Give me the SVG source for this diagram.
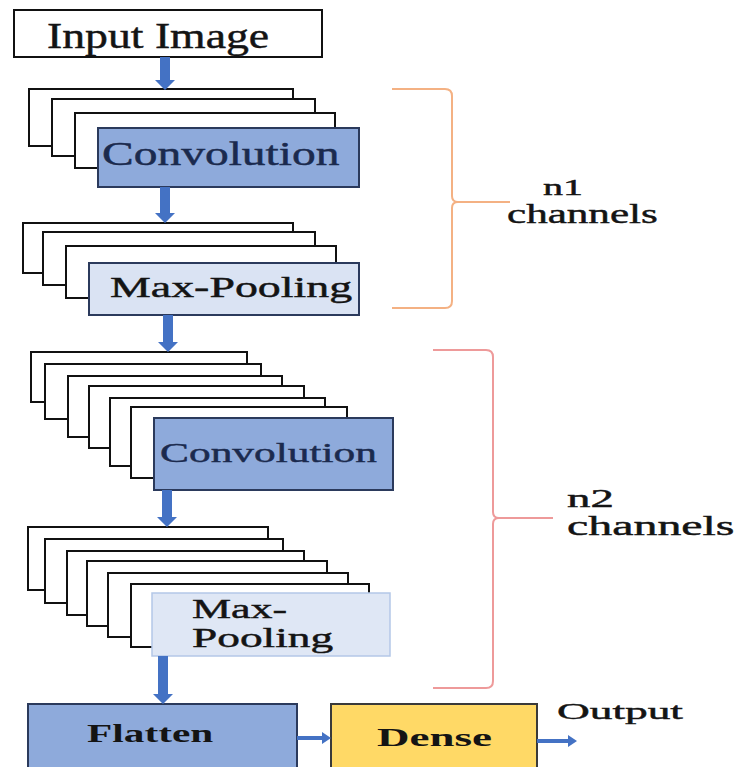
<svg xmlns="http://www.w3.org/2000/svg" width="737" height="767" viewBox="0 0 737 767">
<defs>
<style>
.bg{fill:#ffffff;stroke:#111;stroke-width:2}
.t{font-family:"Liberation Serif","Times New Roman",serif;fill:#141414;stroke:#141414;stroke-width:0.45}
.tb{font-family:"Liberation Serif","Times New Roman",serif;font-weight:bold;fill:#141414}
.navy{fill:#1b2a4e;stroke:#1b2a4e}
.conv{fill:#8eaadb;stroke:#2b3a5c;stroke-width:2}
.pool{fill:#dae3f3;stroke:#2b3a5c;stroke-width:2}
.pool2{fill:#dfe7f5;stroke:#b4c7e7;stroke-width:1.5}
.dense{fill:#ffd966;stroke:#3a3a3a;stroke-width:2}
.arr{fill:#4472c4}
.brace1{fill:none;stroke:#f4b183;stroke-width:2}
.brace2{fill:none;stroke:#ee9a9a;stroke-width:2}
</style>
</defs>
<rect width="737" height="767" fill="#ffffff"/>

<g id="input">
<rect x="14" y="10" width="308" height="47" class="bg"/>
<text class="t" font-size="36" transform="translate(47,48) scale(1.27,1)">Input Image</text>
</g>

<g id="conv1">
<rect x="29" y="89" width="264" height="57" class="bg"/>
<rect x="52" y="99" width="263" height="57" class="bg"/>
<rect x="75" y="113" width="260" height="55" class="bg"/>
<rect x="98" y="128" width="261" height="59" class="conv"/>
<text class="t navy" font-size="33" transform="translate(102,165) scale(1.44,1)">Convolution</text>
</g>

<g id="pool1">
<rect x="23" y="223" width="270" height="50" class="bg"/>
<rect x="43" y="232" width="272" height="53" class="bg"/>
<rect x="66" y="246" width="270" height="52" class="bg"/>
<rect x="89" y="263" width="270" height="52" class="pool"/>
<text class="t" font-size="30" transform="translate(110,297) scale(1.53,1)">Max-Pooling</text>
</g>

<g id="conv2">
<rect x="31" y="352" width="216" height="50" class="bg"/>
<rect x="45" y="364" width="216" height="55" class="bg"/>
<rect x="68" y="376" width="214" height="61" class="bg"/>
<rect x="89" y="386" width="215" height="62" class="bg"/>
<rect x="110" y="398" width="215" height="68" class="bg"/>
<rect x="131" y="407" width="216" height="71" class="bg"/>
<rect x="154" y="418" width="239" height="72" class="conv"/>
<text class="t navy" font-size="28" transform="translate(160,462) scale(1.55,1)">Convolution</text>
</g>

<g id="pool2">
<rect x="28" y="527" width="240" height="63" class="bg"/>
<rect x="45" y="539" width="238" height="64" class="bg"/>
<rect x="67" y="551" width="237" height="64" class="bg"/>
<rect x="87" y="561" width="240" height="65" class="bg"/>
<rect x="108" y="573" width="240" height="64" class="bg"/>
<rect x="131" y="584" width="238" height="63" class="bg"/>
<rect x="152" y="593" width="238" height="63" class="pool2"/>
<text class="t" font-size="28" transform="translate(192,618) scale(1.57,1)">Max-</text>
<text class="t" font-size="28" transform="translate(192,647) scale(1.62,1)">Pooling</text>
</g>

<g id="flatten">
<rect x="28" y="704" width="269" height="70" class="conv"/>
<text class="tb" font-size="26" transform="translate(87,742) scale(1.59,1)">Flatten</text>
</g>

<g id="dense">
<rect x="331" y="704" width="206" height="70" class="dense"/>
<text class="tb" font-size="26" transform="translate(377,746) scale(1.73,1)">Dense</text>
</g>

<g id="output-label">
<text class="t" font-size="24" transform="translate(557,719) scale(1.89,1)">Output</text>
</g>

<g id="brace-n1">
<path class="brace1" d="M392,89 L445,89 Q452,89 452,96 L452,196 Q452,202 458,202 L510,202 M458,202 Q452,202 452,208 L452,301 Q452,308 445,308 L392,308"/>
<text class="t" font-size="24" transform="translate(543,195) scale(1.67,1)">n1</text>
<text class="t" font-size="28" transform="translate(507,223) scale(1.54,1)">channels</text>
</g>

<g id="brace-n2">
<path class="brace2" d="M433,350 L486,350 Q493,350 493,357 L493,512 Q493,518 499,518 L553,518 M499,518 Q493,518 493,524 L493,681 Q493,688 486,688 L433,688"/>
<text class="t" font-size="26" transform="translate(567,507) scale(1.8,1)">n2</text>
<text class="t" font-size="28" transform="translate(567,535) scale(1.71,1)">channels</text>
</g>

<g id="connectors">
<polygon class="arr" points="160,57 170,57 170,80 175,80 165,90 155,80 160,80"/>
<polygon class="arr" points="160,187 170,187 170,213 175,213 165,223 155,213 160,213"/>
<polygon class="arr" points="163,315 173,315 173,342 178,342 168,352 158,342 163,342"/>
<polygon class="arr" points="162,490 172,490 172,517 177,517 167,527 157,517 162,517"/>
<polygon class="arr" points="158,656 168,656 168,694 173,694 163,704 153,694 158,694"/>
<polygon class="arr" points="297,736 322,736 322,732 331,738 322,744 322,740 297,740"/>
<polygon class="arr" points="537,739 568,739 568,735 577,741 568,747 568,743 537,743"/>
</g>
</svg>
